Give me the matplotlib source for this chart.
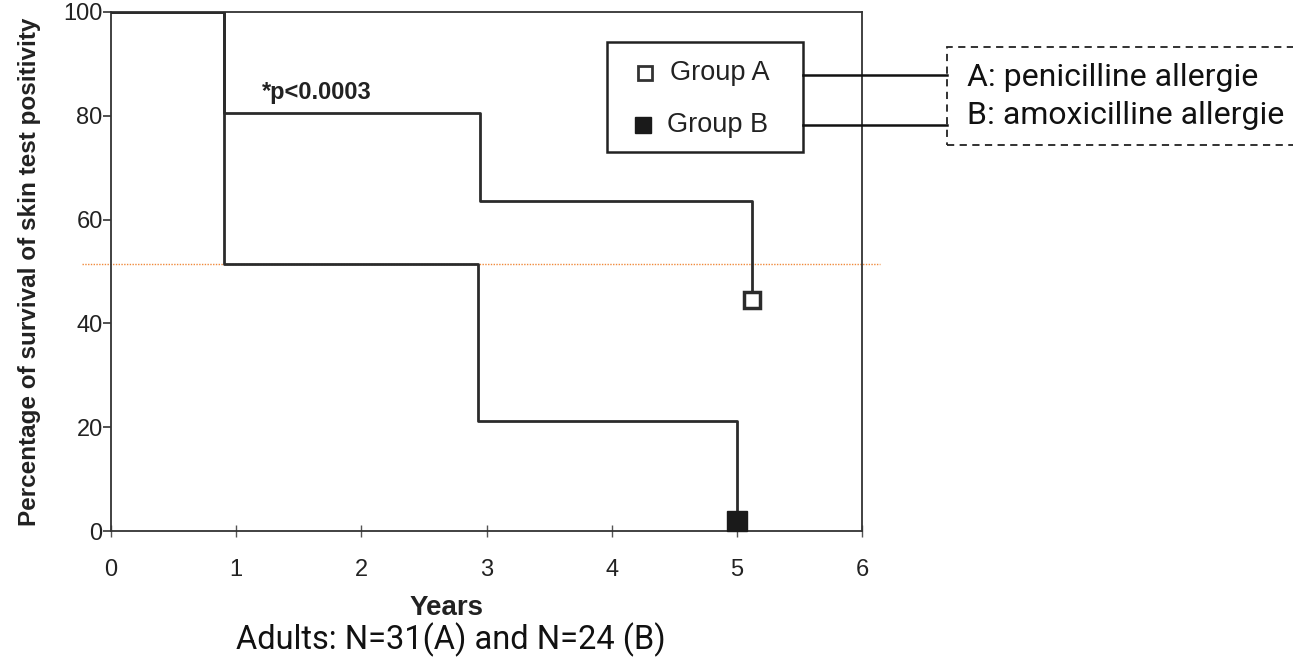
import matplotlib
matplotlib.use("Agg")
import matplotlib.pyplot as plt
from matplotlib.patches import Rectangle
from matplotlib.lines import Line2D

# Data
years_a = [0, 0.9, 2.95, 5.12]
surv_a = [100, 80.5, 63.5, 44.5]
years_b = [0, 0.9, 2.93, 5.0]
surv_b = [100, 51.5, 21.2, 2.0]
median_level = 51.5
xticks = [0, 1, 2, 3, 4, 5, 6]
yticks = [0, 20, 40, 60, 80, 100]
legend_labels = ["Group A", "Group B"]
note_lines = ["A: penicilline allergie", "B: amoxicilline allergie"]

W, H = 1293, 663
fig = plt.figure(figsize=(W / 100, H / 100), dpi=100)
ax = fig.add_axes([111 / W, 1 - 531 / H, (862 - 111) / W, (531 - 12) / H])

arial = "Liberation Sans"
roboto = "Roboto"
line_col = "#2b2b2b"

ax.step(years_a, surv_a, where="post", color=line_col, lw=2.0, zorder=3)
ax.step(years_b, surv_b, where="post", color=line_col, lw=2.0, zorder=3)
ax.plot([years_a[-1]], [surv_a[-1]], marker="s", ms=12, mfc="white", mec=line_col, mew=2.5, zorder=4)
ax.plot([years_b[-1]], [surv_b[-1]], marker="s", ms=14, mfc="#1a1a1a", mec="#1a1a1a", zorder=4, clip_on=False)

# orange dotted median line extending beyond the axes
ax.plot([-0.23, 6.14], [median_level, median_level], color="#f08a3c", lw=1.0,
        ls=(0, (1, 1)), clip_on=False, zorder=2)

ax.set_xlim(0, 6)
ax.set_ylim(0, 100)
ax.set_xticks(xticks)
ax.set_yticks(yticks)
ax.set_xticklabels([str(t) for t in xticks], fontsize=17, family=arial, color="#222")
ax.set_yticklabels([str(t) for t in yticks], fontsize=17, family=arial, color="#222")
ax.tick_params(axis="y", direction="out", length=6, width=1.2, pad=0, color="#333")
ax.tick_params(axis="x", direction="inout", length=8, width=1.0, pad=16, color="#555")
for s in ax.spines.values():
    s.set_color("#333")
    s.set_linewidth(1.3)

ax.set_ylabel("Percentage of survival of skin test positivity", fontsize=17.5,
              fontweight="bold", family=arial, color="#222", labelpad=16)
fig.text(447 / W, 1 - 608 / H, "Years", ha="center", va="center", fontsize=20,
         fontweight="bold", family=arial, color="#222")
fig.text(451 / W, 1 - 640 / H, "Adults: N=31(A) and N=24 (B)", ha="center", va="center",
         fontsize=23.5, family=roboto, color="#111")

fig.text(262 / W, 1 - 93 / H, "*p<0.0003", ha="left", va="center", fontsize=17,
         fontweight="bold", family=arial, color="#222")

# legend box
fig.patches.append(Rectangle((607 / W, 1 - 152 / H), (803 - 607) / W, (152 - 42) / H,
                             transform=fig.transFigure, fill=True, fc="white",
                             ec="#222", lw=1.8, zorder=5))
fig.lines.append(Line2D([645 / W], [1 - 73 / H], marker="s", ms=10, mfc="white", mec="#333",
                        mew=2.0, transform=fig.transFigure, zorder=6))
fig.lines.append(Line2D([643 / W], [1 - 125 / H], marker="s", ms=12, mfc="#1a1a1a", mec="#1a1a1a",
                        transform=fig.transFigure, zorder=6))
fig.text(670 / W, 1 - 73 / H, legend_labels[0], ha="left", va="center", fontsize=19.5,
         family=arial, color="#222", zorder=6)
fig.text(667 / W, 1 - 125 / H, legend_labels[1], ha="left", va="center", fontsize=19.5,
         family=arial, color="#222", zorder=6)

# connector lines
for yy in (75, 125):
    fig.lines.append(Line2D([803 / W, 947 / W], [1 - yy / H, 1 - yy / H], color="#111", lw=1.8,
                            transform=fig.transFigure, zorder=6))

# dashed note box
fig.patches.append(Rectangle((947 / W, 1 - 145 / H), (1300 - 947) / W, (145 - 47) / H,
                             transform=fig.transFigure, fill=False, ec="#222", lw=1.3,
                             ls=(0, (4, 3)), zorder=5))
fig.text(967 / W, 1 - 78 / H, note_lines[0], ha="left", va="center", fontsize=23,
         family=roboto, color="#111")
fig.text(967 / W, 1 - 116 / H, note_lines[1], ha="left", va="center", fontsize=23,
         family=roboto, color="#111")

fig.savefig("out.png", dpi=100)
